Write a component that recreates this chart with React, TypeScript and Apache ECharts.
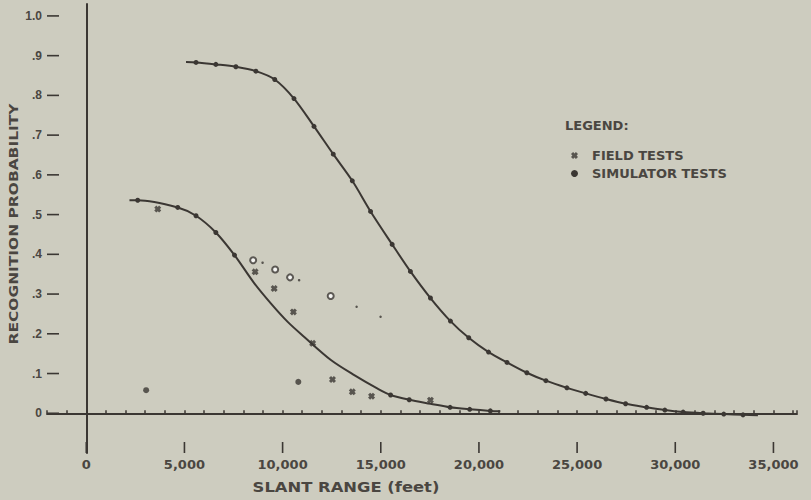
import React, { useEffect, useRef } from "react";
import * as echarts from "echarts";

// ---------- data ----------
const X_MIN = -2000;
const X_MAX = 36200;
const Y_MIN = -0.1;
const Y_MAX = 1.03;

const xMajorTicks = [0, 5000, 10000, 15000, 20000, 25000, 30000, 35000];
const yTicks = [0, 0.1, 0.2, 0.3, 0.4, 0.5, 0.6, 0.7, 0.8, 0.9, 1.0];

// upper fitted curve: simulator test points on it, plus curve ends without a marker
const upperCurveEnds = [
  [5080, 0.884],
  [34210, -0.005],
];
const upperSimTests = [
  [5590, 0.883], [6600, 0.878], [7620, 0.872], [8640, 0.861], [9600, 0.84],
  [10580, 0.792], [11600, 0.722], [12580, 0.652], [13550, 0.585], [14480, 0.508],
  [15580, 0.425], [16510, 0.357], [17530, 0.29], [18550, 0.232], [19480, 0.19],
  [20490, 0.154], [21430, 0.128], [22440, 0.102], [23410, 0.082], [24480, 0.064],
  [25440, 0.05], [26470, 0.036], [27470, 0.024], [28540, 0.015], [29470, 0.008],
  [30400, 0.003], [31420, 0.0], [32470, -0.002], [33450, -0.004],
];

// lower fitted curve
const lowerCurveOnly = [
  [2200, 0.536], [8560, 0.327], [9410, 0.276], [10260, 0.23], [11105, 0.192],
  [12460, 0.134], [13650, 0.096], [14840, 0.062], [17530, 0.024], [21090, 0.005],
];
const lowerSimTests = [
  [2620, 0.536], [4660, 0.518], [5590, 0.497], [6600, 0.455], [7550, 0.398],
  [15500, 0.046], [16450, 0.034], [18530, 0.015], [19530, 0.01], [20580, 0.006],
];

const fieldTests = [
  [3640, 0.514], [8600, 0.356], [9570, 0.314], [10550, 0.255], [11530, 0.176],
  [12540, 0.085], [13550, 0.054], [14530, 0.043], [17530, 0.033],
];
const filledBlobs = [
  [3050, 0.058], [10800, 0.079],
];
const openCircles = [
  [8500, 0.385], [9620, 0.362], [10380, 0.342], [12450, 0.295],
];
const smallDots = [
  [8980, 0.379], [10840, 0.335], [13770, 0.268], [14990, 0.243],
];

// ---------- style ----------
const BG = "#cdccbf";
const INK = "#3b3733";
const TEXT = "#4a4641";
const XPATH =
  "path://M0,3L3,0L5,2L7,0L10,3L8,5L10,7L7,10L5,8L3,10L0,7L2,5Z";

function curveData(onCurve: number[][], marked: number[][]) {
  const items = [
    ...onCurve.map((p) => ({ value: p, symbol: "none" })),
    ...marked.map((p) => ({ value: p })),
  ];
  items.sort((a, b) => a.value[0] - b.value[0]);
  return items;
}

export default function App() {
  const ref = useRef<HTMLDivElement>(null);

  useEffect(() => {
    if (!ref.current) return;
    const chart = echarts.init(ref.current, undefined, { renderer: "svg" });

    const tickRender = (dir: "up" | "right") => (params: any, api: any) => {
      const p = api.coord([api.value(0), api.value(1)]);
      const x2 = dir === "right" ? p[0] + 12 : p[0];
      const y2 = dir === "up" ? p[1] - 11 : p[1];
      return {
        type: "line",
        shape: { x1: p[0], y1: p[1], x2, y2 },
        style: { stroke: INK, lineWidth: 1.6 },
      };
    };

    const curveSeries = (data: any[]) => ({
      name: "SIMULATOR TESTS",
      type: "line",
      smooth: 0.3,
      showAllSymbol: true,
      symbol: "circle",
      symbolSize: 5,
      color: INK,
      itemStyle: { color: INK },
      lineStyle: { color: INK, width: 2 },
      data,
    });

    const option: any = {
      animation: false,
      backgroundColor: BG,
      title: {
        text: "LEGEND:",
        left: 565,
        top: 119,
        padding: 0,
        textStyle: {
          fontFamily: "DejaVu Sans",
          fontWeight: "bold",
          fontSize: 13,
          color: TEXT,
        },
      },
      legend: {
        orient: "vertical",
        left: 571,
        top: 149,
        itemWidth: 9,
        itemHeight: 7,
        itemGap: 5,
        padding: 0,
        data: [
          { name: "FIELD TESTS", icon: XPATH },
          { name: "SIMULATOR TESTS", icon: "circle" },
        ],
        textStyle: {
          fontFamily: "DejaVu Sans",
          fontWeight: "bold",
          fontSize: 13,
          color: TEXT,
          padding: [0, 0, 0, 8],
        },
      },
      grid: { left: 47, right: 14, top: 4, bottom: 47 },
      xAxis: {
        type: "value",
        min: X_MIN,
        max: X_MAX,
        interval: 1000,
        splitLine: { show: false },
        axisLine: { lineStyle: { color: INK, width: 2 } },
        axisTick: { inside: true, length: 3, lineStyle: { color: INK, width: 1.5 } },
        axisLabel: {
          margin: 5,
          fontFamily: "DejaVu Sans",
          fontWeight: "bold",
          fontSize: 13,
          color: TEXT,
          formatter: (v: number) => {
            const r = Math.round(v);
            if (r < 0 || r % 5000 !== 0) return "";
            return r === 0 ? "0" : r.toLocaleString("en-US");
          },
        },
      },
      yAxis: {
        type: "value",
        min: Y_MIN,
        max: Y_MAX,
        interval: 0.1,
        splitLine: { show: false },
        axisLine: { lineStyle: { color: INK, width: 2 } },
        axisTick: { show: false },
        axisLabel: {
          margin: 5,
          fontFamily: "Liberation Sans",
          fontWeight: "bold",
          fontSize: 12,
          color: TEXT,
          formatter: (v: number) => {
            const k = Math.round(v * 100);
            if (k < 0 || k > 100) return "";
            if (k === 100) return "1.0";
            if (k === 0) return "0";
            return "." + Math.round(k / 10);
          },
        },
      },
      graphic: [
        {
          type: "text",
          x: 13,
          y: 224,
          rotation: Math.PI / 2,
          scaleX: 1.19,
          style: {
            text: "RECOGNITION PROBABILITY",
            font: 'bold 13px "DejaVu Sans"',
            fill: TEXT,
            align: "center",
            verticalAlign: "middle",
          },
        },
        {
          type: "text",
          x: 346,
          y: 487,
          scaleX: 1.17,
          style: {
            text: "SLANT RANGE (feet)",
            font: 'bold 14px "DejaVu Sans"',
            fill: TEXT,
            align: "center",
            verticalAlign: "middle",
          },
        },
      ],
      series: [
        {
          name: "xMajorTicks",
          type: "custom",
          silent: true,
          renderItem: tickRender("up"),
          data: xMajorTicks.map((v) => [v, Y_MIN]),
        },
        {
          name: "yTicks",
          type: "custom",
          silent: true,
          renderItem: tickRender("right"),
          data: yTicks.map((v) => [X_MIN, v]),
        },
        curveSeries(curveData(upperCurveEnds, upperSimTests)),
        curveSeries(curveData(lowerCurveOnly, lowerSimTests)),
        {
          name: "FIELD TESTS",
          type: "scatter",
          symbol: XPATH,
          symbolSize: 7,
          color: INK,
          itemStyle: { color: INK },
          data: fieldTests,
        },
        {
          name: "blobs",
          type: "scatter",
          symbol: "circle",
          symbolSize: 6,
          itemStyle: { color: INK },
          data: filledBlobs,
        },
        {
          name: "open",
          type: "scatter",
          symbol: "emptyCircle",
          symbolSize: 6,
          itemStyle: { color: INK, borderColor: INK, borderWidth: 1.5 },
          data: openCircles,
        },
        {
          name: "dots",
          type: "scatter",
          symbol: "circle",
          symbolSize: 2.5,
          itemStyle: { color: INK },
          data: smallDots,
        },
      ],
    };

    chart.setOption(option);
    return () => chart.dispose();
  }, []);

  return (
    <div
      ref={ref}
      style={{ position: "absolute", left: 0, top: 0, width: 811, height: 500 }}
    />
  );
}
